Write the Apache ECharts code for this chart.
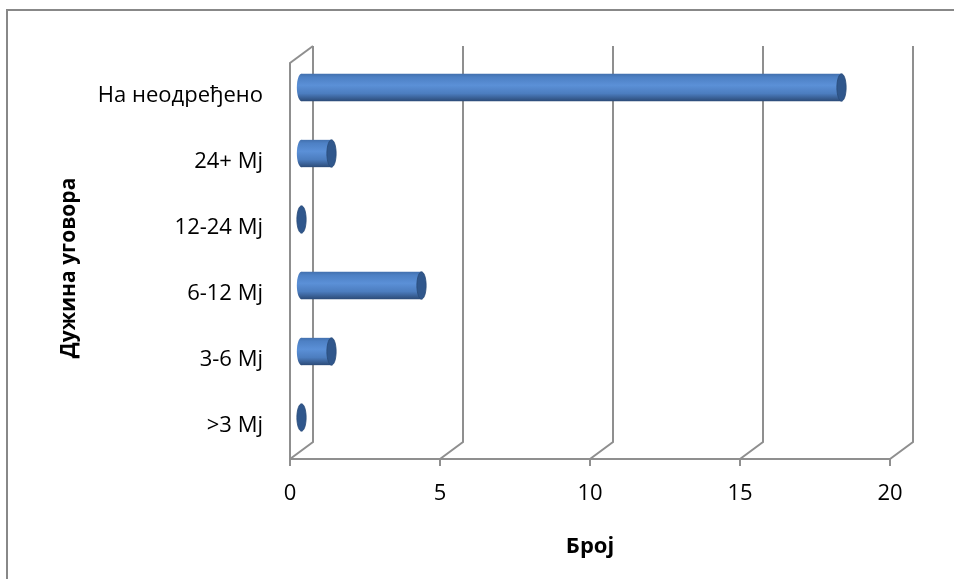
<!DOCTYPE html>
<html>
<head>
<meta charset="utf-8">
<script src="https://cdn.jsdelivr.net/npm/echarts@6/dist/echarts.min.js"></script>
<style>
  html, body { margin: 0; padding: 0; background: #fff; }
  #chart { width: 954px; height: 579px; }
</style>
</head>
<body>
<div id="chart"></div>
<script>
// Contract length categories (bottom to top) and number of contracts
const categories = ['>3 Mj', '3-6 Mj', '6-12 Mj', '12-24 Mj', '24+ Mj', 'На неодређено'];
const counts = [0, 1, 4, 0, 1, 18];
const xTicks = [0, 5, 10, 15, 20];

const FONT = '"Open Sans", "Noto Sans", sans-serif';
const FRAME = '#8f8f8f';
// depth of the 3D box (back wall offset)
const DX = 23, DY = 17;

const chart = echarts.init(document.getElementById('chart'));

// back wall gridlines, floor diagonals and left wall top edge
function renderFrame(params, api) {
  const cs = params.coordSys;
  const v = api.value(0);
  const px = api.coord([v, 0])[0];
  const bottom = cs.y + cs.height, top = cs.y;
  const children = [{
    type: 'polyline',
    shape: { points: [[px, bottom], [px + DX, bottom - DY], [px + DX, top - DY]] },
    style: { stroke: FRAME, lineWidth: 2, fill: null }
  }];
  if (v === 0) {
    children.push({
      type: 'line',
      shape: { x1: px, y1: top, x2: px + DX, y2: top - DY },
      style: { stroke: FRAME, lineWidth: 2 }
    });
  }
  return { type: 'group', children };
}

// horizontal cylinder bars, centred at mid-depth of the box
function renderBar(params, api) {
  const v = api.value(0);
  const c = api.value(1);
  const p0 = api.coord([0, c]);
  const p1 = api.coord([v, c]);
  const band = api.size([0, 1])[1];
  const ry = band * 0.207;
  const rx = ry * 0.34;
  const x0 = p0[0] + DX / 2, x1 = p1[0] + DX / 2, y = p0[1] - DY / 2;
  const grad = new echarts.graphic.LinearGradient(0, 0, 0, 1, [
    { offset: 0, color: '#4270ae' },
    { offset: 0.12, color: '#4d80c4' },
    { offset: 0.42, color: '#5b90d7' },
    { offset: 0.72, color: '#4c7dbf' },
    { offset: 1, color: '#2c4b78' }
  ]);
  const children = [];
  if (v > 0) {
    children.push({
      type: 'ellipse',
      shape: { cx: x0, cy: y, rx: rx, ry: ry },
      style: { fill: grad }
    });
    children.push({
      type: 'rect',
      shape: { x: x0, y: y - ry, width: x1 - x0, height: ry * 2 },
      style: { fill: grad }
    });
  }
  children.push({
    type: 'ellipse',
    shape: { cx: x1, cy: y, rx: rx, ry: ry },
    style: { fill: '#30578c', stroke: '#2a4b78', lineWidth: 0.8 }
  });
  return { type: 'group', children };
}

chart.setOption({
  animation: false,
  backgroundColor: '#fff',
  graphic: [{
    type: 'rect',
    shape: { x: 7, y: 10, width: 1200, height: 1000 },
    style: { fill: null, stroke: '#888', lineWidth: 2 },
    silent: true
  }],
  grid: { left: 290, top: 63, width: 600, height: 396 },
  xAxis: {
    type: 'value',
    min: 0, max: 20, interval: 5,
    name: 'Број',
    nameLocation: 'middle',
    nameGap: 77,
    nameTextStyle: { fontFamily: FONT, fontSize: 22, fontWeight: 'bold', color: '#000' },
    axisLine: { show: true, lineStyle: { color: FRAME, width: 2 } },
    axisTick: { show: true, length: 7, lineStyle: { color: FRAME, width: 2 } },
    axisLabel: { fontFamily: FONT, fontSize: 22, color: '#000', margin: 24 },
    splitLine: { show: false }
  },
  yAxis: {
    type: 'category',
    data: categories,
    name: 'Дужина уговора',
    nameLocation: 'middle',
    nameGap: 210,
    nameTextStyle: { fontFamily: FONT, fontSize: 21, fontWeight: 'bold', color: '#000', padding: [0, 14, 0, 0] },
    axisLine: { show: true, lineStyle: { color: FRAME, width: 2 } },
    axisTick: { show: false },
    axisLabel: { fontFamily: FONT, fontSize: 22, color: '#000', margin: 27, padding: [9, 0, 0, 0] },
    splitLine: { show: false }
  },
  series: [
    {
      type: 'custom',
      renderItem: renderFrame,
      clip: false,
      silent: true,
      encode: { x: 0, y: 1 },
      data: xTicks.map(v => [v, categories[0]]),
      z: 1
    },
    {
      type: 'custom',
      renderItem: renderBar,
      clip: false,
      encode: { x: 0, y: 1 },
      data: counts.map((v, i) => [v, categories[i]]),
      z: 3
    }
  ]
});
</script>
</body>
</html>
